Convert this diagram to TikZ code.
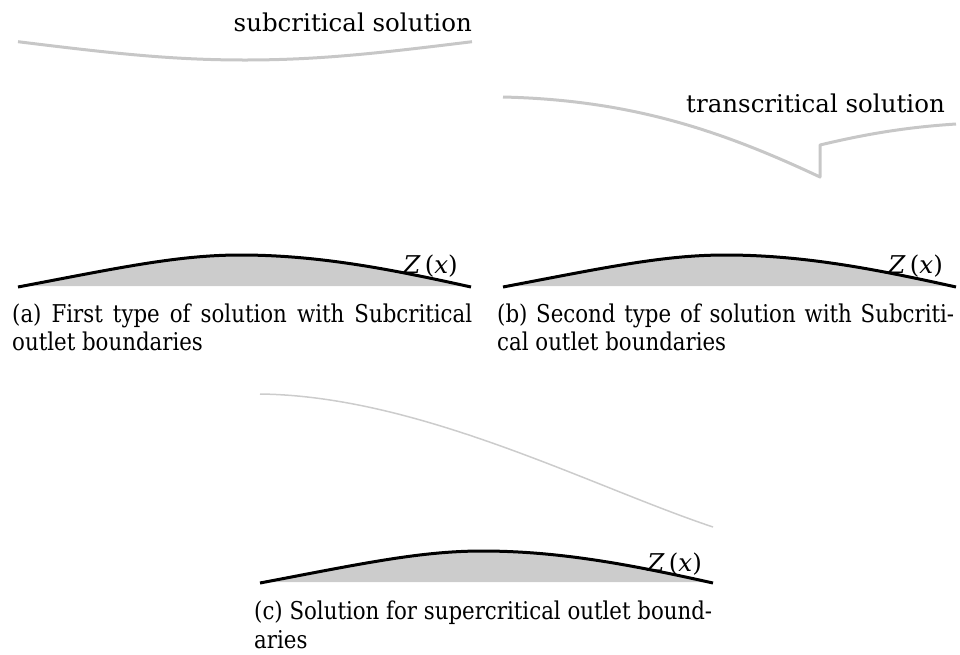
\documentclass[tikz,border=0pt]{standalone}
\usepackage{fontspec}
\setmainfont{DejaVu Serif}
\newfontfamily\capfont[FakeStretch=0.87]{DejaVu Serif}
\begin{document}
\begin{tikzpicture}[x=1pt,y=-1pt,
  font=\fontsize{24.5}{29}\selectfont,
  bumpline/.style={line width=3pt, black},
  bumpfill/.style={fill=black!20},
  flowthick/.style={line width=3pt, black!22, line join=round},
  flowthin/.style={line width=1.5pt, black!20},
  lbl/.style={inner sep=0pt, anchor=base east},
  capfirst/.style={inner sep=0pt, anchor=base west, text width=#1, align=justify,
                   font=\capfont\fontsize{24.5}{29}\selectfont},
  capnext/.style={inner sep=0pt, anchor=base west, font=\capfont\fontsize{24.5}{29}\selectfont},
]
\useasboundingbox (0,0) rectangle (960,654);

% ---------- panel (a) ----------
\draw[flowthick] (18,41.7) .. controls (110,53) and (170,60) .. (245,60)
                 .. controls (320,60) and (380,53) .. (472,41.7);
\node[lbl] (suba) at (472,31) {subcritical solution};
\begin{scope}[shift={(18,287)}]
  \fill[bumpfill] (0,-1) .. controls (100,-20) and (160,-33) .. (222,-33)
                  .. controls (300,-33) and (372,-19) .. (453,-1) -- cycle;
  \draw[bumpline] (0,0) .. controls (100,-19) and (160,-32) .. (222,-32)
                  .. controls (300,-32) and (372,-18) .. (453,0);
  \node[lbl] (za) at (440,-14) {\textit{Z}\,(\textit{x})};
\end{scope}
\node[capfirst=460pt] (capa1) at (12,322) {\parfillskip=0pt\relax (a) First type of solution with Subcritical\par};
\node[capnext] (capa2) at (12,350) {outlet boundaries};

% ---------- panel (b) ----------
\draw[flowthick] (503,97) .. controls (630,100) and (720,130) .. (820,177)
                 -- (820,145) .. controls (870,133) and (910,127) .. (956,124);
\node[lbl] (tra) at (945,112) {transcritical solution};
\begin{scope}[shift={(503,287)}]
  \fill[bumpfill] (0,-1) .. controls (100,-20) and (160,-33) .. (222,-33)
                  .. controls (300,-33) and (372,-19) .. (453,-1) -- cycle;
  \draw[bumpline] (0,0) .. controls (100,-19) and (160,-32) .. (222,-32)
                  .. controls (300,-32) and (372,-18) .. (453,0);
  \node[lbl] (zb) at (440,-14) {\textit{Z}\,(\textit{x})};
\end{scope}
\node[capfirst=457pt] (capb1) at (497,322) {\parfillskip=0pt\relax (b) Second type of solution with Subcriti-\par};
\node[capnext] (capb2) at (497,350) {cal outlet boundaries};

% ---------- panel (c) ----------
\draw[flowthin] (260,394) .. controls (420,396) and (590,486) .. (713,527);
\begin{scope}[shift={(260,583)}]
  \fill[bumpfill] (0,-1) .. controls (100,-20) and (160,-33) .. (222,-33)
                  .. controls (300,-33) and (372,-19) .. (453,-1) -- cycle;
  \draw[bumpline] (0,0) .. controls (100,-19) and (160,-32) .. (222,-32)
                  .. controls (300,-32) and (372,-18) .. (453,0);
  \node[lbl] (zc) at (442,-12) {\textit{Z}\,(\textit{x})};
\end{scope}
\node[capfirst=458pt] (capc1) at (254,619) {\parfillskip=0pt\relax (c) Solution for supercritical outlet bound-\par};
\node[capnext] (capc2) at (254,648) {aries};
\end{tikzpicture}
\end{document}
